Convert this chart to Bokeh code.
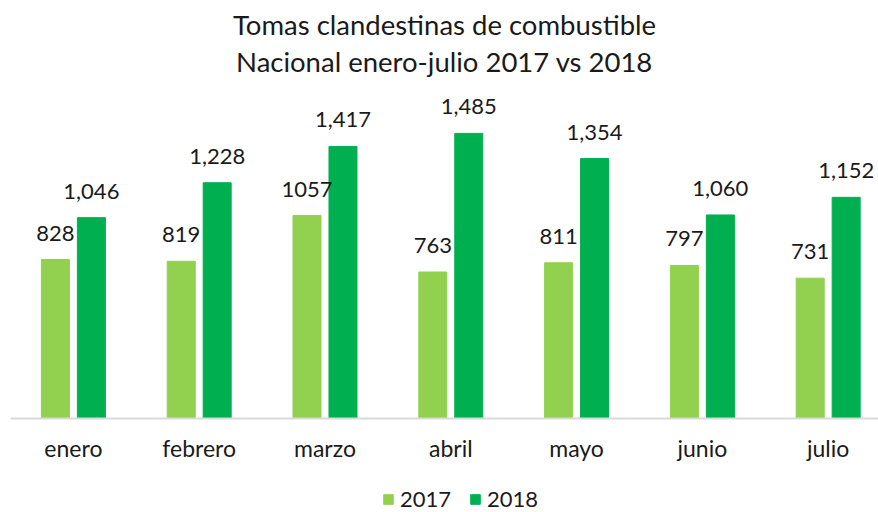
from bokeh.plotting import figure
from bokeh.models import (ColumnDataSource, Range1d, FixedTicker, LabelSet, Legend,
                          LegendItem, Label)
from bokeh.core.properties import value
from bokeh.transform import dodge
from bokeh.embed import file_html
from bokeh.resources import INLINE

months = ["enero", "febrero", "marzo", "abril", "mayo", "junio", "julio"]
v2017 = [828, 819, 1057, 763, 811, 797, 731]
v2018 = [1046, 1228, 1417, 1485, 1354, 1060, 1152]
lab2017 = ["828", "819", "1057", "763", "811", "797", "731"]
lab2018 = ["1,046", "1,228", "1,417", "1,485", "1,354", "1,060", "1,152"]
title_lines = ["Tomas clandestinas de combustible", "Nacional enero-julio 2017 vs 2018"]

C17 = "#92D050"
C18 = "#00B050"
FONT = "Lato"

pos = [i + 0.5 for i in range(len(months))]
src = ColumnDataSource(dict(x=pos, v17=v2017, v18=v2018, l17=lab2017, l18=lab2018))

X0, X1 = 0, 6.90
p = figure(width=878, height=512, output_backend="svg", toolbar_location=None,
           x_range=Range1d(X0, X1), y_range=Range1d(-489.6, 2177.1),
           y_axis_location=None, min_border_left=10, min_border_right=0,
           min_border_top=0, min_border_bottom=0)

for line, sy in zip(title_lines, [488, 451]):
    p.add_layout(Label(x=(X0 + X1) / 2, y=sy, y_units="screen", text=line,
                       text_align="center", text_baseline="middle",
                       text_font=FONT, text_font_size="27.5px",
                       text_color="#1a1a1a"))

bw = 0.2226
off = 0.143
r17 = p.vbar(x=dodge("x", -off), top="v17", width=bw, source=src, color=C17)
r18 = p.vbar(x=dodge("x", off), top="v18", width=bw, source=src, color=C18)

for yf, lf, d in [("v17", "l17", -off), ("v18", "l18", off)]:
    ls = LabelSet(x=dodge("x", d), y=yf, text=lf, source=src, text_align="center",
                  text_baseline="alphabetic", y_offset=19, text_font=value(FONT),
                  text_font_size=value("22px"), text_color="#1a1a1a")
    p.add_layout(ls)

p.xgrid.grid_line_color = None
p.ygrid.grid_line_color = None
p.outline_line_color = None
ax = p.xaxis[0]
ax.fixed_location = 0
ax.ticker = FixedTicker(ticks=pos)
ax.major_label_overrides = {pv: m for pv, m in zip(pos, months)}
ax.major_tick_line_color = None
ax.minor_tick_line_color = None
ax.axis_line_color = "#D9D9D9"
ax.axis_line_width = 2
ax.major_label_text_font = FONT
ax.major_label_text_font_size = "23px"
ax.major_label_text_color = "#1a1a1a"
ax.major_label_standoff = 10

legend = Legend(items=[LegendItem(label="2017", renderers=[r17]),
                       LegendItem(label="2018", renderers=[r18])],
                orientation="horizontal", location=(372, 0),
                label_text_font=FONT, label_text_font_size="22px",
                label_text_color="#1a1a1a", glyph_width=12, glyph_height=12,
                label_height=12,
                border_line_color=None, background_fill_alpha=0,
                spacing=18, label_standoff=6, padding=0, margin=0)
p.add_layout(legend)

open("out.html", "w").write(file_html(p, INLINE))
